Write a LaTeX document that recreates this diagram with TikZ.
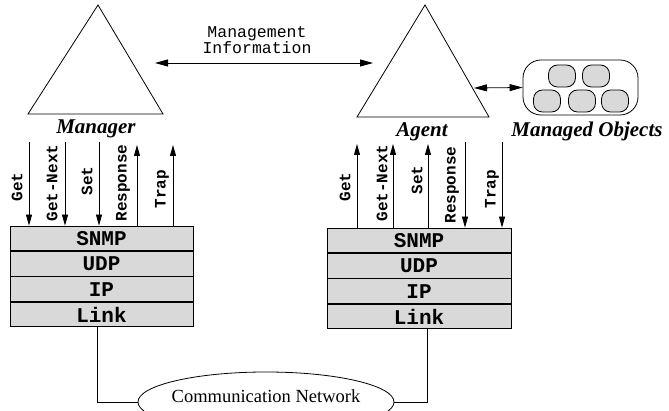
\documentclass[tikz,border=0pt]{standalone}
\usepackage{fontspec}
\setmainfont{Liberation Serif}
\setmonofont{Liberation Mono}
\usetikzlibrary{positioning,arrows.meta,shapes.geometric}

\tikzset{
  tip/.style={-{Triangle[length=11pt,width=6pt]}},
  both/.style={{Triangle[length=13pt,width=7pt]}-{Triangle[length=13pt,width=7pt]}},
  layer/.style={draw,fill=gray!30,minimum height=24.6pt,inner sep=0pt,
    font=\fontsize{21}{21}\selectfont\ttfamily\bfseries},
  msg/.style={rotate=90,inner sep=0pt,font=\fontsize{16}{16}\selectfont\ttfamily\bfseries},
  who/.style={anchor=base,inner sep=0pt,font=\fontsize{21}{21}\selectfont\bfseries\itshape},
  obj/.style={draw,fill=gray!30,rounded corners=9pt,minimum width=27pt,minimum height=22pt}
}

\begin{document}
\begin{tikzpicture}[x=1pt,y=-1pt,line width=0.8pt]
  \useasboundingbox (0,0) rectangle (669,411);

  % manager and agent
  \coordinate (mtop) at (98,5);
  \coordinate (atop) at (425,5);
  \draw (mtop) -- ++(65,109) -- ++(-135,0) -- cycle;
  \draw (atop) -- ++(64,112) -- ++(-132,0) -- cycle;
  \node (manager) [who] at (96,134) {Manager};
  \node (agent)   [who] at (422,137) {Agent};

  \node (info) [align=center,inner sep=0pt,
    font=\fontsize{16.5}{15}\selectfont\ttfamily] at (257,40) {Management\\Information};
  \coordinate (mi1) at (155,63);
  \coordinate (mi2) at (373,63);
  \draw[both] (mi1) -- (mi2);

  % managed objects
  \node (mo) [draw,rounded corners=18pt,minimum width=115pt,minimum height=55pt] at (580.5,87.5) {};
  \node (o1) [obj] at (562,76) {};
  \node (o2) [obj] at (596,76) {};
  \node (o3) [obj] at (547,101) {};
  \node (o4) [obj] at (582,101) {};
  \node (o5) [obj] at (615,101) {};
  \node (objects) [who] at (587,137) {Managed Objects};
  \coordinate (ar) at (474,88);
  \draw[both] (ar) -- (mo.west);

  % protocol stacks
  \node (msnmp) [layer,minimum width=183pt] at (101.5,238.3) {SNMP};
  \node (mudp)  [layer,minimum width=183pt,below=0pt of msnmp] {UDP};
  \node (mip)   [layer,minimum width=183pt,below=0pt of mudp] {IP};
  \node (mlink) [layer,minimum width=183pt,below=0pt of mip] {Link};
  \node (asnmp) [layer,minimum width=184pt] at (419,240.3) {SNMP};
  \node (audp)  [layer,minimum width=184pt,below=0pt of asnmp] {UDP};
  \node (aip)   [layer,minimum width=184pt,below=0pt of audp] {IP};
  \node (alink) [layer,minimum width=184pt,below=0pt of aip] {Link};

  % manager messages
  \coordinate (mget)  at (29,142);
  \coordinate (mnext) at (65,142);
  \coordinate (mset)  at (99,142);
  \coordinate (mresp) at (137,145);
  \coordinate (mtrap) at (173,145);
  \draw[tip] (mget) -- (mget |- msnmp.north);
  \draw[tip] (mnext) -- (mnext |- msnmp.north);
  \draw[tip] (mset) -- (mset |- msnmp.north);
  \draw[tip] (mresp |- msnmp.north) -- (mresp);
  \draw[tip] (mtrap |- msnmp.north) -- (mtrap);
  \node (lmget)  [msg] at (17,187) {Get};
  \node (lmnext) [msg] at (52,183) {Get-Next};
  \node (lmset)  [msg] at (87,181) {Set};
  \node (lmresp) [msg] at (123,183) {Response};
  \node (lmtrap) [msg] at (162,189) {Trap};

  % agent messages
  \coordinate (aget)  at (357,144);
  \coordinate (anext) at (393,144);
  \coordinate (aset)  at (428,144);
  \coordinate (aresp) at (465,142);
  \coordinate (atrap) at (502,142);
  \draw[tip] (aget |- asnmp.north) -- (aget);
  \draw[tip] (anext |- asnmp.north) -- (anext);
  \draw[tip] (aset |- asnmp.north) -- (aset);
  \draw[tip] (aresp) -- (aresp |- asnmp.north);
  \draw[tip] (atrap) -- (atrap |- asnmp.north);
  \node (laget)  [msg] at (345,187) {Get};
  \node (lanext) [msg] at (382,183) {Get-Next};
  \node (laset)  [msg] at (417,180) {Set};
  \node (laresp) [msg] at (452,185) {Response};
  \node (latrap) [msg] at (492,189) {Trap};

  % network
  \node (net) [draw,ellipse,minimum width=256pt,minimum height=60pt,inner sep=0pt] at (266,402) {};
  \node (nettext) [inner sep=0pt,font=\fontsize{18.5}{18.5}\selectfont] at (266,396) {Communication Network};
  \draw (mlink.south) ++(-4,0) |- (net.west);
  \draw (alink.south) ++(8,0) |- (net.east);
\end{tikzpicture}
\end{document}
